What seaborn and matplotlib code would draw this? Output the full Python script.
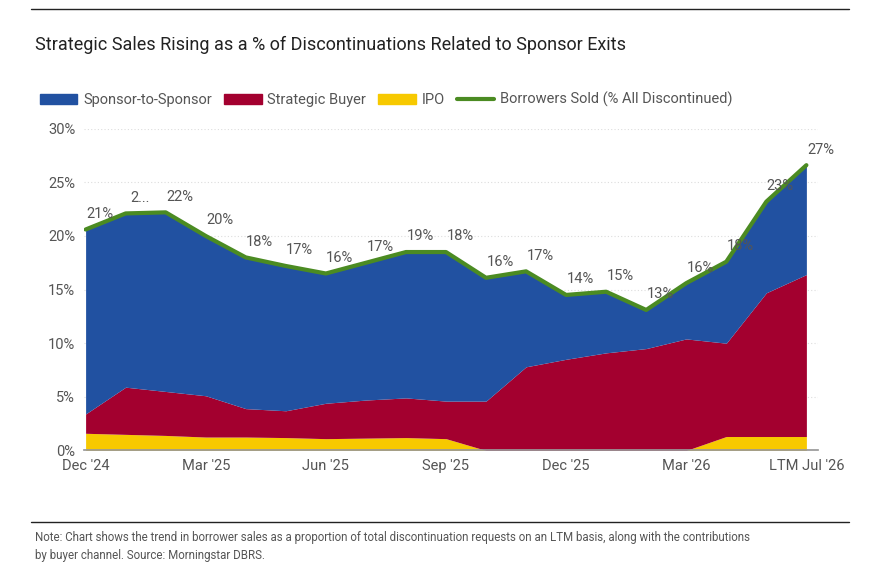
import matplotlib
matplotlib.use("Agg")
import matplotlib.pyplot as plt
import seaborn as sns
import numpy as np
from matplotlib.lines import Line2D
from matplotlib.patches import Patch

months = ["Dec '24","Jan '25","Feb '25","Mar '25","Apr '25","May '25","Jun '25","Jul '25","Aug '25",
          "Sep '25","Oct '25","Nov '25","Dec '25","Jan '26","Feb '26","Mar '26","Apr '26","May '26","LTM Jul '26"]
total = [20.6,22.1,22.2,20.0,18.0,17.2,16.5,17.5,18.5,18.5,16.1,16.7,14.5,14.8,13.1,15.6,17.6,23.2,26.6]
red_top = [3.4,5.9,5.5,5.1,3.9,3.7,4.4,4.7,4.9,4.6,4.6,7.8,8.5,9.1,9.5,10.4,10.0,14.7,16.4]
ipo = [1.6,1.5,1.4,1.25,1.25,1.2,1.1,1.15,1.2,1.1,0,0,0,0,0,0,1.3,1.3,1.3]
labels = ["21%","2...","22%","20%","18%","17%","16%","17%","19%","18%","16%","17%","14%","15%","13%","16%","18%","23%","27%"]
tick_idx = [0,3,6,9,12,15,18]
tick_labels = ["Dec '24","Mar '25","Jun '25","Sep '25","Dec '25","Mar '26","LTM Jul '26"]

strategic = [r - i for r, i in zip(red_top, ipo)]
sponsor = [t - r for t, r in zip(total, red_top)]

sns.set_theme(style="white")
plt.rcParams['font.family'] = ['Roboto', 'DejaVu Sans']
BLUE, RED, YEL, GRN = "#2151a1", "#a3002f", "#f7c900", "#4b8b22"
GREY = "#555555"

fig = plt.figure(figsize=(8.8, 5.85), dpi=100)
ax = fig.add_axes([0.095, 0.23, 0.835, 0.55])
x = np.arange(len(months))
ax.stackplot(x, ipo, strategic, sponsor, colors=[YEL, RED, BLUE], linewidth=0)
sns.lineplot(x=x, y=total, ax=ax, color=GRN, linewidth=3)
for xi, yi, lab in zip(x, total, labels):
    ax.text(xi + 0.35, yi + 0.8, lab, ha="center", va="bottom", fontsize=10.5, color=GREY)
ax.set_xlim(-0.05, 18.3)
ax.set_ylim(0, 30)
ax.set_yticks(range(0, 31, 5))
ax.set_yticklabels([f"{v}%" for v in range(0, 31, 5)], color=GREY, fontsize=10.5)
ax.set_xticks(tick_idx)
ax.set_xticklabels(tick_labels, color=GREY, fontsize=10.5)
ax.yaxis.grid(True, color="#dddddd", linestyle=(0, (1, 2)), linewidth=0.8)
for s in ["top", "right", "left"]:
    ax.spines[s].set_visible(False)
ax.spines["bottom"].set_color("#999999")
ax.tick_params(axis="both", length=0, pad=6)

fig.add_artist(Line2D([0.035, 0.965], [0.985, 0.985], color="#222222", linewidth=1))
fig.text(0.04, 0.915, "Strategic Sales Rising as a % of Discontinuations Related to Sponsor Exits",
         fontsize=13, color="#222222")
handles = [Patch(color=BLUE, label="Sponsor-to-Sponsor"), Patch(color=RED, label="Strategic Buyer"),
           Patch(color=YEL, label="IPO"), Line2D([], [], color=GRN, linewidth=3, label="Borrowers Sold (% All Discontinued)")]
fig.legend(handles=handles, loc="upper left", bbox_to_anchor=(0.03, 0.865), ncol=4, frameon=False,
           fontsize=10.5, handlelength=2.6, handleheight=0.6, columnspacing=0.8, handletextpad=0.4,
           labelcolor=GREY)
fig.add_artist(Line2D([0.035, 0.965], [0.108, 0.108], color="#222222", linewidth=1))
fig.text(0.04, 0.045, "Note: Chart shows the trend in borrower sales as a proportion of total discontinuation requests on an LTM basis, along with the contributions\nby buyer channel. Source: Morningstar DBRS.",
         fontsize=8.3, color=GREY, linespacing=1.5)
fig.savefig("out.png", dpi=100)
